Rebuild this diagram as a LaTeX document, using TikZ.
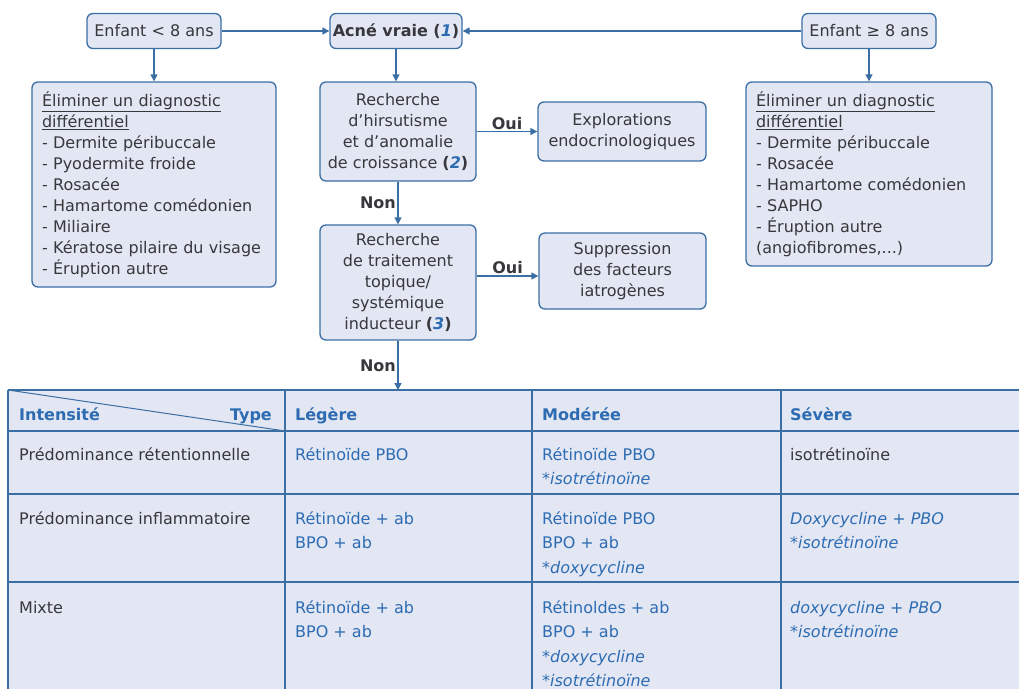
\documentclass[tikz,border=0pt]{standalone}
\usepackage{fontspec}
\setmainfont{DejaVu Sans}
\usetikzlibrary{arrows.meta}
\definecolor{bdr}{RGB}{59,110,165}
\definecolor{boxfill}{RGB}{227,231,243}
\definecolor{tabfill}{RGB}{227,230,243}
\definecolor{txt}{RGB}{55,55,60}
\definecolor{blu}{RGB}{45,108,178}
\newcommand{\refnum}[1]{\textbf{(\textcolor{blu}{\textit{#1}})}}
\newcommand{\lines}[1]{\begin{tabular}[t]{@{}l@{}}#1\end{tabular}}
\begin{document}
\begin{tikzpicture}[x=1pt,y=-1pt,
  box/.style={draw=bdr, fill=boxfill, line width=1.3pt, rounded corners=6pt, text=txt, inner sep=0pt, font=\fontsize{16}{21}\selectfont, align=center},
  listbox/.style={box, align=left, inner xsep=10pt},
  arr/.style={draw=bdr, line width=1.3pt, -{Triangle[length=7pt,width=7pt]}},
  lab/.style={font=\fontsize{16}{20}\selectfont\bfseries, text=txt, inner sep=1.5pt},
  cell/.style={anchor=base west, inner sep=0pt, font=\fontsize{16}{24.6}\selectfont, text=blu},
  dcell/.style={cell, text=txt},
  hcell/.style={cell, font=\fontsize{16}{24.6}\selectfont\bfseries},
  grid/.style={draw=bdr, line width=1.3pt}
]
\useasboundingbox (0,0) rectangle (1019,689);

% ---- table ----
\fill[tabfill] (8,390) rectangle (1019,689);
\foreach \yy in {390,431,494,582} \draw[grid] (8,\yy) -- (1019,\yy);
\foreach \xx in {8,285,532,781} \draw[grid] (\xx,390) -- (\xx,689);
\draw[grid, line width=1pt] (8,390) -- (285,431);

\node[hcell] (hInt) at (19,420) {Intensité};
\node[hcell, anchor=base east] (hType) at (272,420) {Type};
\node[hcell] (hLeg) at (295,420) {Légère};
\node[hcell] (hMod) at (542,420) {Modérée};
\node[hcell] (hSev) at (790,420) {Sévère};

\node[dcell] (r1c0) at (19,460) {Prédominance rétentionnelle};
\node[cell] (r1c1) at (295,460) {Rétinoïde PBO};
\node[cell] (r1c2) at (542,460) {\lines{Rétinoïde PBO\\\textit{*isotrétinoïne}}};
\node[dcell] (r1c3) at (790,460) {isotrétinoïne};

\node[dcell] (r2c0) at (19,524) {Prédominance inflammatoire};
\node[cell] (r2c1) at (295,524) {\lines{Rétinoïde + ab\\BPO + ab}};
\node[cell] (r2c2) at (542,524) {\lines{Rétinoïde PBO\\BPO + ab\\\textit{*doxycycline}}};
\node[cell] (r2c3) at (790,524) {\lines{\textit{Doxycycline + PBO}\\\textit{*isotrétinoïne}}};

\node[dcell] (r3c0) at (19,613) {Mixte};
\node[cell] (r3c1) at (295,613) {\lines{Rétinoïde + ab\\BPO + ab}};
\node[cell] (r3c2) at (542,613) {\lines{Rétinoldes + ab\\BPO + ab\\\textit{*doxycycline}\\\textit{*isotrétinoïne}}};
\node[cell] (r3c3) at (790,613) {\lines{\textit{doxycycline + PBO}\\\textit{*isotrétinoïne}}};

% ---- flowchart ----
\node[box, minimum width=134pt, minimum height=35pt] (e8) at (154,31) {Enfant < 8 ans};
\node[box, minimum width=132pt, minimum height=35pt, font=\fontsize{16}{21}\selectfont\bfseries] (acne) at (396,31) {Acné vraie \refnum{1}};
\node[box, minimum width=134pt, minimum height=35pt] (e8p) at (869,31) {Enfant ≥ 8 ans};

\node[listbox, text width=224pt, minimum height=205pt] (elimL) at (154,184.5) {\underline{Éliminer un diagnostic}\\\underline{différentiel}\\- Dermite péribuccale\\- Pyodermite froide\\- Rosacée\\- Hamartome comédonien\\- Miliaire\\- Kératose pilaire du visage\\- Éruption autre};
\node[listbox, text width=226pt, minimum height=184pt] (elimR) at (869,174) {\underline{Éliminer un diagnostic}\\\underline{différentiel}\\- Dermite péribuccale\\- Rosacée\\- Hamartome comédonien\\- SAPHO\\- Éruption autre\\(angiofibromes,...)};

\node[box, minimum width=156pt, minimum height=99pt] (hirs) at (398,131.5) {Recherche\\d’hirsutisme\\et d’anomalie\\de croissance \refnum{2}};
\node[box, minimum width=168pt, minimum height=59pt] (explo) at (622,131.5) {Explorations\\endocrinologiques};
\node[box, minimum width=156pt, minimum height=115pt] (trait) at (398,282.5) {Recherche\\de traitement\\topique/\\systémique\\inducteur \refnum{3}};
\node[box, minimum width=167pt, minimum height=76pt] (supp) at (622.5,271) {Suppression\\des facteurs\\iatrogènes};

\coordinate (tabtop) at (398,390);
\path (trait.east) ++(0,-6.5) coordinate (t2a);

\draw[arr] (e8.east) -- (acne.west);
\draw[arr] (e8p.west) -- (acne.east);
\draw[arr] (e8.south) -- (elimL.north);
\draw[arr] (e8p.south) -- (elimR.north);
\draw[arr] (acne.south) -- (acne.south |- hirs.north);
\draw[arr] (hirs.east) -- node[lab, above] (oui1) {Oui} (explo.west);
\draw[arr] (hirs.south) -- node[lab, left] (non1) {Non} (trait.north);
\draw[arr] (t2a) -- node[lab, above] (oui2) {Oui} (t2a -| supp.west);
\draw[arr] (trait.south) -- node[lab, left] (non2) {Non} (tabtop);
\end{tikzpicture}
\end{document}
